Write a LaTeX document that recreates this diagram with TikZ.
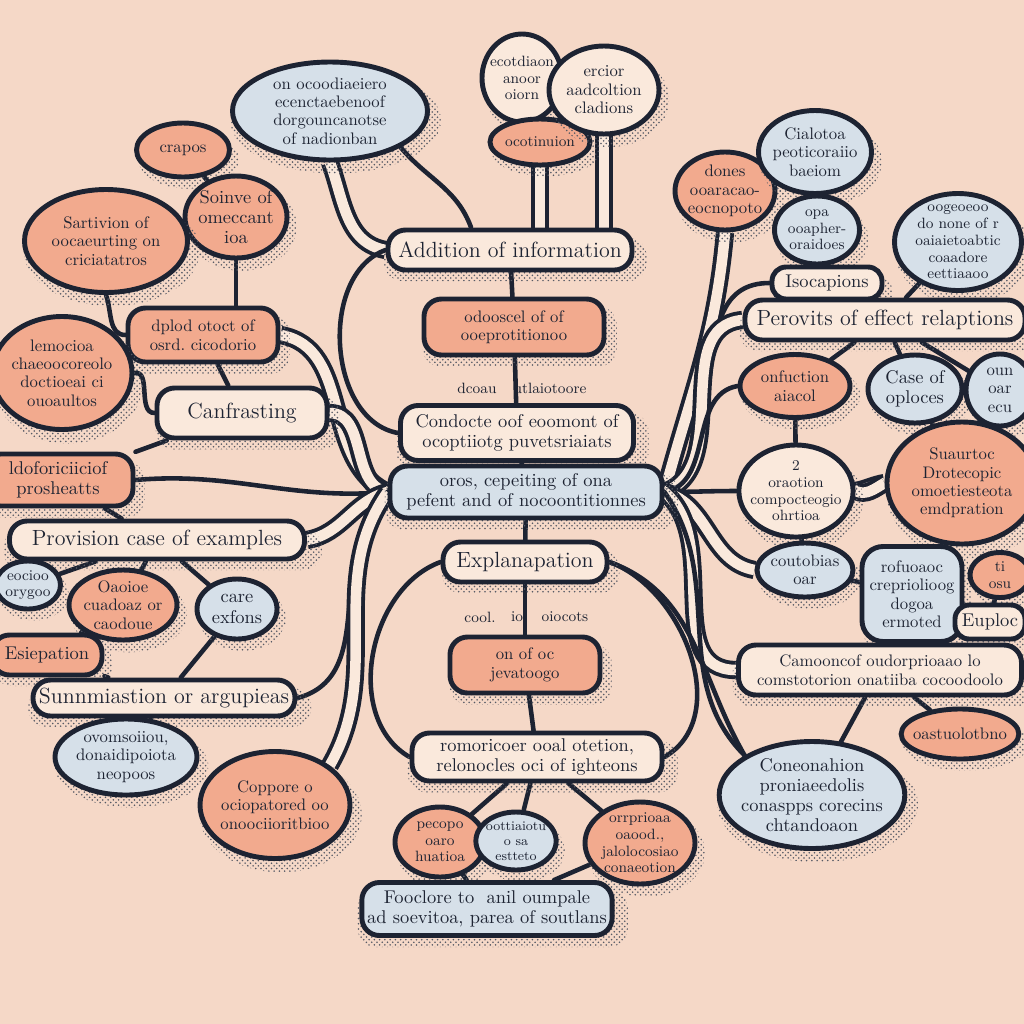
\documentclass[tikz,border=0pt]{standalone}
\usepackage{xcolor}
\usepackage{tikz}
\usetikzlibrary{shapes.geometric, shadows, patterns}
\definecolor{paperTone}{RGB}{245,216,199}
\definecolor{salmonFill}{RGB}{242,170,142}
\definecolor{paleBlue}{RGB}{214,224,233}
\definecolor{creamFill}{RGB}{250,233,220}
\definecolor{ink}{RGB}{29,35,50}
\pgfdeclarelayer{paper}
\pgfdeclarelayer{links}
\pgfsetlayers{paper,links,main}

\begin{document}
\begin{tikzpicture}[x=0.2mm, y=-0.2mm,
  bub/.style={draw=ink, line width=2.8pt, text=ink, align=center, inner sep=1pt,
    general shadow={shadow xshift=3pt, shadow yshift=-5pt, shadow scale=1.08, pattern=crosshatch dots, pattern color=ink!75}},
  oval/.style={bub, ellipse, inner sep=-3pt},
  pill/.style={bub, rectangle, rounded corners=10pt, inner xsep=3pt, inner ysep=2pt},
  sal/.style={fill=salmonFill}, blu/.style={fill=paleBlue}, crm/.style={fill=creamFill},
  txtXS/.style={font=\fontsize{7.5}{8.5}\selectfont},
  txtS/.style={font=\fontsize{8.5}{9.5}\selectfont},
  txtM/.style={font=\fontsize{9.5}{10.5}\selectfont},
  txtL/.style={font=\fontsize{10.5}{11.5}\selectfont},
  txtH/.style={font=\fontsize{12.5}{14}\selectfont},
  link/.style={draw=ink, line width=2.6pt, line cap=round},
  pipe/.style={draw=ink, line width=2.2pt, double=creamFill, double distance=6pt}]
\useasboundingbox (0,0) rectangle (1024,1024);
\begin{pgfonlayer}{paper}
\fill[paperTone] (0,0) rectangle (1024,1024);
\end{pgfonlayer}

\node[oval, blu, txtM, minimum width=39mm, minimum height=19.6mm] (bigq) at (330,111) {on ocoodiaeiero\\ ecenctaebenoof\\ dorgouncanotse\\ of nadionban};
\node[oval, sal, txtM, minimum width=18.6mm, minimum height=10.8mm] (crapos) at (183,150) {crapos};
\node[oval, sal, txtL, minimum width=20.4mm, minimum height=16.4mm] (soinve) at (236,217) {Soinve of\\ omeccant\\ ioa};
\node[oval, sal, txtM, minimum width=32.6mm, minimum height=20.6mm] (sartivion) at (106,241) {Sartivion of\\ oocaeurting on\\ criciatatros};
\node[pill, sal, txtM, minimum width=30mm, minimum height=10.8mm] (dplod) at (203,335) {dplod otoct of\\ osrd.\ cicodorio};
\node[oval, sal, txtM, minimum width=28mm, minimum height=22.6mm] (lemocioa) at (62,373) {lemocioa\\ chaeoocoreolo\\ doctioeai ci\\ ouoaultos};
\node[pill, crm, txtH, minimum width=34mm, minimum height=10mm] (contrast) at (242,413) {Canfrasting};
\node[pill, sal, txtL, minimum width=30mm, minimum height=10.4mm] (ldofor) at (58,480) {ldoforiciiciof\\ prosheatts};

\node[oval, crm, txtS, minimum width=16mm, minimum height=17.6mm] (ecotd) at (522,78) {ecotdiaon\\ anoor\\ oiorn};
\node[oval, sal, txtS, minimum width=20mm, minimum height=9.2mm] (ocotin) at (540,142) {ocotinuion};
\node[oval, crm, txtM, minimum width=22mm, minimum height=17.6mm] (ercior) at (604,90) {ercior\\ aadcoltion\\ cladions};

\node[pill, crm, txtH, minimum width=48.8mm, minimum height=8mm] (addinfo) at (510,250) {Addition of information};
\node[pill, sal, txtM, minimum width=36mm, minimum height=11.2mm] (odoos) at (514,327) {odooscel of of\\ ooeprotitionoo};
\node[txtS, text=ink] (tagA) at (477,388) {dcoau};
\node[txtS, text=ink] (tagB) at (550,388) {utlaiotoore};
\node[pill, crm, txtL, minimum width=46.6mm, minimum height=11mm] (condocte) at (517,433) {Condocte oof eoomont of\\ ocoptiiotg puvetsriaiats};
\node[pill, blu, txtL, minimum width=54.4mm, minimum height=10.4mm] (centre) at (526,492) {oros, cepeiting of ona\\ pefent and of nocoontitionnes};
\node[pill, crm, txtH, minimum width=32.8mm, minimum height=8mm] (explan) at (525,562) {Explanapation};
\node[txtS, text=ink] (tagC) at (480,617) {cool.};
\node[txtS, text=ink] (tagD) at (517,617) {io};
\node[txtS, text=ink] (tagE) at (565,617) {oiocots};
\node[pill, sal, txtM, minimum width=30mm, minimum height=11.2mm] (onofoc) at (525,665) {on of oc\\ jevatoogo};
\node[pill, crm, txtL, minimum width=50mm, minimum height=9.6mm] (romori) at (537,757) {romoricoer ooal otetion,\\ relonocles oci of ighteons};
\node[oval, sal, txtS, minimum width=18mm, minimum height=14mm] (pecopo) at (440,842) {pecopo\\ oaro\\ huatioa};
\node[oval, blu, txtXS, inner sep=-1pt, minimum width=16mm, minimum height=11.6mm] (oottia) at (516,841) {oottiaiotu\\ o sa\\ estteto};
\node[oval, sal, txtS, minimum width=22mm, minimum height=16.4mm] (orrpri) at (640,843) {orrprioaa\\ oaood.,\\ jalolocosiao\\ conaeotion};
\node[pill, blu, txtL, minimum width=50mm, minimum height=10.6mm] (fooclore) at (487,909) {Fooclore to\ \ anil oumpale\\ ad soevitoa, parea of soutlans};

\node[oval, sal, txtM, minimum width=20mm, minimum height=15.6mm] (dones) at (725,191) {dones\\ ooaracao-\\ eocnopoto};
\node[oval, blu, txtM, minimum width=22.6mm, minimum height=16.6mm] (cialot) at (815,152) {Cialotoa\\ peoticoraiio\\ baeiom};
\node[oval, blu, txtS, minimum width=17mm, minimum height=13.6mm] (opa) at (817,230) {opa\\ ooapher-\\ oraidoes};
\node[oval, blu, txtS, minimum width=25.4mm, minimum height=19.4mm] (oogeo) at (958,242) {oogeoeoo\\ do none of r\\ oaiaietoabtic\\ coaadore\\ eettiaaoo};
\node[pill, crm, txtL, rounded corners=8pt, minimum width=22mm, minimum height=6.4mm] (isocap) at (827,283) {Isocapions};
\node[pill, crm, txtH, minimum width=56mm, minimum height=8mm] (perovits) at (885,320) {Perovits of effect relaptions};
\node[oval, sal, txtM, minimum width=22mm, minimum height=12.6mm] (onfuc) at (795,386) {onfuction\\ aiacol};
\node[oval, blu, txtL, minimum width=18.8mm, minimum height=13.6mm] (caseof) at (915,389) {Case of\\ oploces};
\node[oval, blu, txtM, minimum width=13.6mm, minimum height=14.4mm] (rtblue) at (1000,390) {oun\\ oar\\ ecu};
\node[oval, crm, txtS, minimum width=20.4mm, minimum height=18.4mm] (twocirc) at (796,491) {2\\ oraotion\\ compocteogio\\ ohrtioa};
\node[oval, sal, txtM, minimum width=30mm, minimum height=24.4mm] (suaur) at (962,483) {Suaurtoc\\ Drotecopic\\ omoetiesteota\\ emdpration};
\node[oval, blu, txtM, minimum width=19.2mm, minimum height=10.8mm] (coutob) at (805,570) {coutobias\\ oar};
\node[bub, blu, txtM, rounded corners=12pt, minimum width=20mm, minimum height=19mm] (rofuo) at (912,594) {rofuoaoc\\ crepriolioog\\ dogoa\\ ermoted};
\node[oval, sal, txtS, minimum width=12mm, minimum height=9mm] (tiosu) at (1000,575) {ti\\ osu};
\node[pill, crm, txtL, rounded corners=8pt, minimum width=14mm, minimum height=6.8mm] (euploc) at (990,622) {Euploc};
\node[pill, crm, txtM, minimum width=56.6mm, minimum height=10mm] (camoon) at (880,670) {Camooncof oudorprioaao lo\\ comstotorion onatiiba cocoodoolo};
\node[oval, sal, txtM, minimum width=22mm, minimum height=10mm] (oastu) at (960,734) {oastuolotbno};
\node[oval, blu, txtL, minimum width=36mm, minimum height=21.4mm] (coneo) at (812,795) {Coneonahion\\ proniaeedolis\\ conaspps corecins\\ chtandoaon};

\node[pill, crm, txtH, minimum width=59mm, minimum height=7.6mm] (provis) at (157,540) {Provision case of examples};
\node[oval, blu, txtS, minimum width=13mm, minimum height=9.6mm] (eocio) at (28,585) {eocioo\\ orygoo};
\node[oval, sal, txtM, minimum width=21.6mm, minimum height=14mm] (oaoioe) at (123,605) {Oaoioe\\ cuadoaz or\\ caodoue};
\node[oval, blu, txtL, minimum width=16mm, minimum height=12mm] (carex) at (237,609) {care\\ exfons};
\node[pill, sal, txtL, minimum width=22mm, minimum height=8mm] (esiep) at (47,655) {Esiepation};
\node[pill, crm, txtH, minimum width=52.4mm, minimum height=7.2mm] (summa) at (164,698) {Sunnmiastion or argupieas};
\node[oval, blu, txtM, minimum width=28.4mm, minimum height=15.2mm] (ovoms) at (126,757) {ovomsoiiou,\\ donaidipoiota\\ neopoos};
\node[oval, sal, txtM, minimum width=30mm, minimum height=21.4mm] (coppo) at (275,805) {Coppore o\\ ociopatored oo\\ onoociioritbioo};

\begin{pgfonlayer}{links}
\foreach \a/\b in {addinfo/odoos, odoos/condocte, condocte/centre, centre/explan, explan/onofoc, onofoc/romori,
    romori/pecopo, romori/oottia, romori/orrpri, pecopo/fooclore, orrpri/fooclore,
    crapos/soinve, dplod/contrast, cialot/dones, opa/isocap, isocap/perovits, oogeo/perovits, perovits/onfuc, perovits/caseof, perovits/rtblue,
    onfuc/twocirc, caseof/suaur, twocirc/coutob, coutob/rofuo, rofuo/camoon, tiosu/euploc, euploc/camoon, camoon/oastu, camoon/coneo,
    provis/eocio, provis/oaoioe, provis/carex, oaoioe/esiep, esiep/summa, carex/summa, summa/ovoms, ldofor/provis, contrast/ldofor}
  \draw[link] (\a) -- (\b);
\draw[link] (soinve.south) -- (soinve.south |- dplod.north);
\draw[link] (sartivion.south) to[out=-70, in=180] (dplod.west);
\draw[link] (lemocioa.east) to[out=10, in=180] (contrast.west);
\draw[pipe] (bigq.south) to[out=-70, in=170] (addinfo.west);
\draw[link] (bigq.south east) to[out=-50, in=110] (addinfo.150);
\draw[pipe] (ocotin.south) -- (ocotin.south |- addinfo.north);
\draw[pipe] (ercior.south) -- (ercior.south |- addinfo.north);
\draw[link] (addinfo.west) to[out=200, in=170] (condocte.west);
\draw[link] (explan.west) to[out=200, in=150] (romori.west);
\draw[link] (explan.east) to[out=-20, in=30] (romori.east);
\foreach \t/\o/\i/\s in {dplod.east/155/-10/pipe, contrast.east/170/0/pipe, ldofor.east/185/5/link, provis.east/195/10/pipe,
    summa.east/220/15/link, coppo.north east/235/60/pipe}
  \draw[\s] (centre.west) to[out=\o, in=\i] (\t);
\foreach \t/\o/\i/\s in {dones.south/75/-95/pipe, isocap.west/35/180/link, perovits.west/20/185/pipe, onfuc.west/10/190/link,
    twocirc.west/0/180/link, coutob.west/-15/170/pipe, camoon.west/-40/180/pipe, coneo.north west/-55/135/link}
  \draw[\s] (centre.east) to[out=\o, in=\i] (\t);
\draw[link] (explan.east) to[out=-20, in=120] (coneo.north west);
\draw[pipe] (twocirc.east) to[out=10, in=190] (suaur.west);
\draw[pipe] (twocirc.east) to[out=-25, in=210] (suaur.west);
\end{pgfonlayer}
\end{tikzpicture}
\end{document}
